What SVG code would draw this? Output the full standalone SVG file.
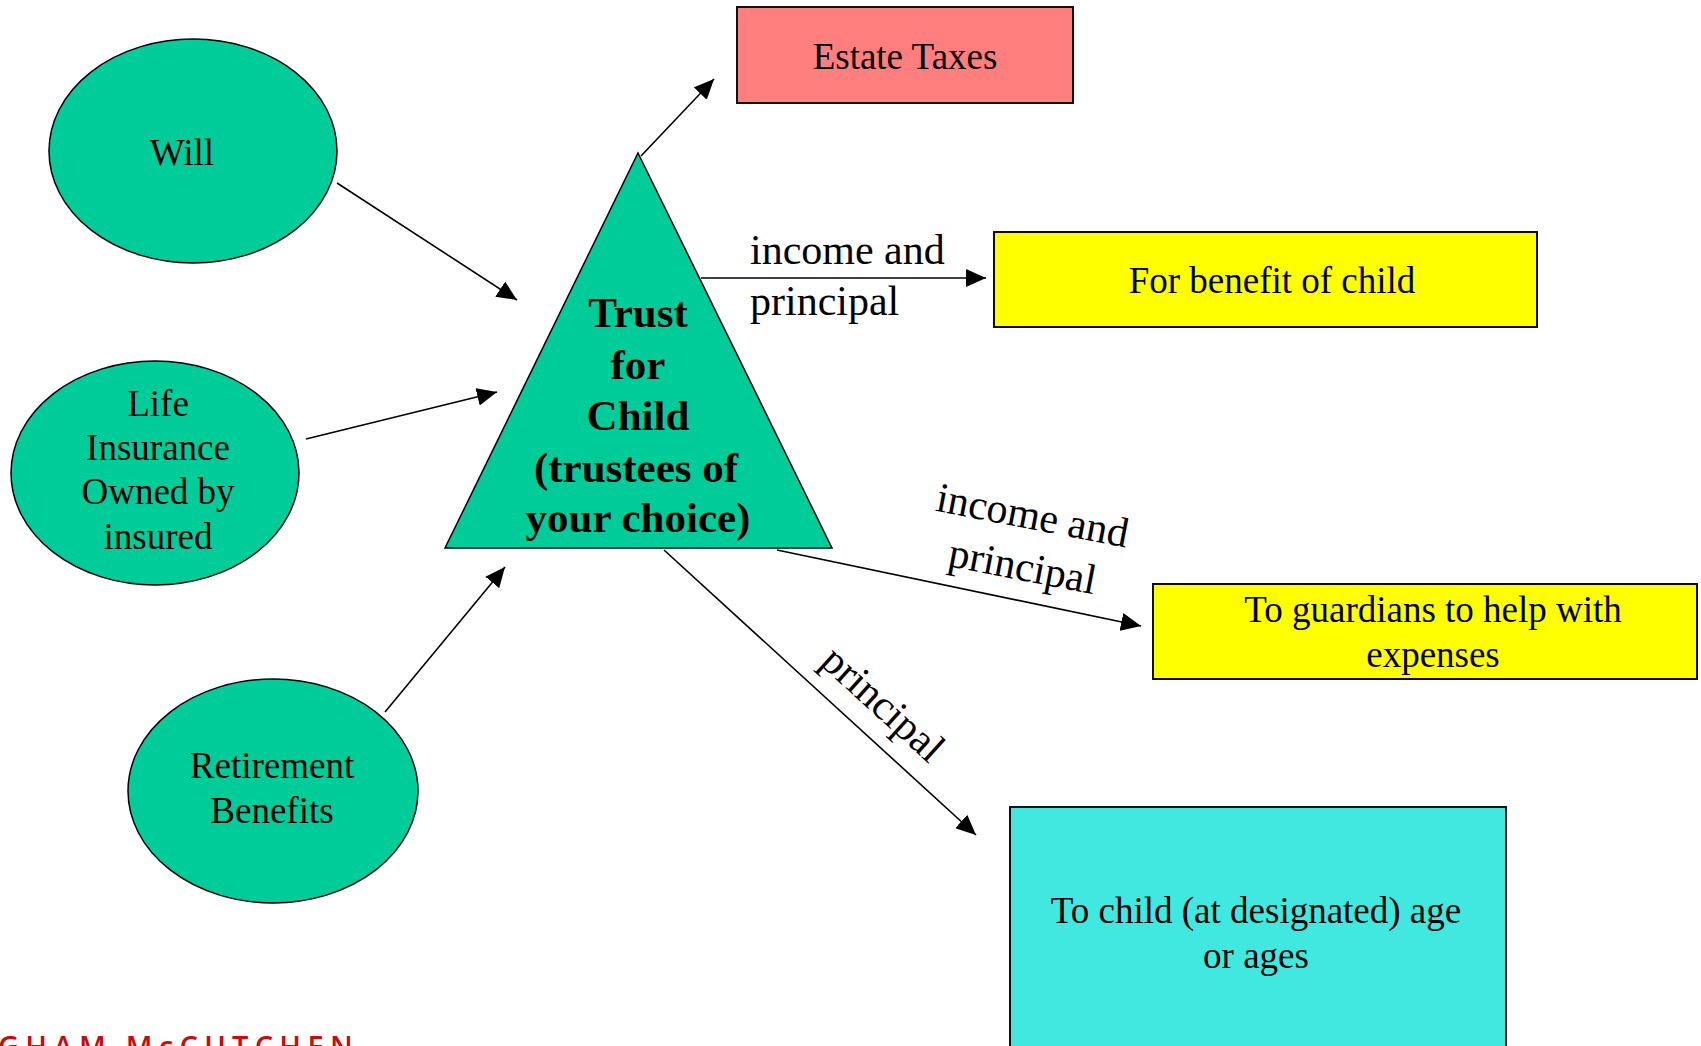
<svg xmlns="http://www.w3.org/2000/svg" width="1701" height="1046" viewBox="0 0 1701 1046">
  <style>
    .source { fill: #00CC99; stroke: #000; stroke-width: 1.5; }
    .box { stroke: #111; stroke-width: 2; }
    .lbl { font-family: "Liberation Serif", "Times New Roman", serif; font-size: 37px; fill: #000; text-anchor: middle; }
    .edge-lbl { font-family: "Liberation Serif", "Times New Roman", serif; font-size: 42px; fill: #000; }
    .trust { font-family: "Liberation Serif", "Times New Roman", serif; font-size: 43px; font-weight: bold; fill: #000; text-anchor: middle; }
    .conn { fill: none; stroke: #000; stroke-width: 1.6; marker-end: url(#arrow); }
    .logo { font-family: "Open Sans", "Liberation Sans", sans-serif; font-size: 29px; font-weight: 600; fill: #CC0A0A; letter-spacing: 6.3px; }
  </style>
  <defs>
    <marker id="arrow" viewBox="0 0 20 18" refX="20" refY="9" markerWidth="20" markerHeight="18" markerUnits="userSpaceOnUse" orient="auto">
      <path d="M0,0 L20,9 L0,18 Z" fill="#000"/>
    </marker>
  </defs>

  <rect width="1701" height="1046" fill="#fff"/>

  <!-- sources feeding the trust -->
  <g id="will">
    <ellipse class="source" cx="193" cy="151" rx="144" ry="112"/>
    <text class="lbl" x="182" y="165">Will</text>
  </g>
  <g id="life-insurance">
    <ellipse class="source" cx="155" cy="473" rx="144" ry="112"/>
    <text class="lbl" x="158" y="416">Life</text>
    <text class="lbl" x="158" y="460">Insurance</text>
    <text class="lbl" x="158" y="504">Owned by</text>
    <text class="lbl" x="158" y="549">insured</text>
  </g>
  <g id="retirement">
    <ellipse class="source" cx="273" cy="791" rx="145" ry="112"/>
    <text class="lbl" x="272" y="778">Retirement</text>
    <text class="lbl" x="272" y="823">Benefits</text>
  </g>

  <!-- the trust itself -->
  <g id="trust">
    <polygon class="source" points="638,153 832,548 445,548"/>
    <text class="trust" x="638" y="327">Trust</text>
    <text class="trust" x="638" y="379">for</text>
    <text class="trust" x="638" y="430">Child</text>
    <text class="trust" x="636" y="482">(trustees of</text>
    <text class="trust" x="638" y="532">your choice)</text>
  </g>

  <!-- destinations -->
  <g id="estate-taxes">
    <rect class="box" x="737" y="7" width="336" height="96" fill="#FF7F7F"/>
    <text class="lbl" x="905" y="69">Estate Taxes</text>
  </g>
  <g id="benefit-of-child">
    <rect class="box" x="994" y="232" width="543" height="95" fill="#FFFF00"/>
    <text class="lbl" x="1272" y="293">For benefit of child</text>
  </g>
  <g id="guardians">
    <rect class="box" x="1153" y="584" width="544" height="95" fill="#FFFF00"/>
    <text class="lbl" x="1433" y="622">To guardians to help with</text>
    <text class="lbl" x="1433" y="667">expenses</text>
  </g>
  <g id="child-at-age">
    <rect class="box" x="1010" y="807" width="496" height="260" fill="#40E8E0"/>
    <text class="lbl" x="1256" y="923">To child (at designated) age</text>
    <text class="lbl" x="1256" y="968">or ages</text>
  </g>

  <!-- connectors and their labels -->
  <g id="connectors">
    <line class="conn" x1="337" y1="183" x2="517" y2="300"/>
    <line class="conn" x1="306" y1="439" x2="497" y2="392"/>
    <line class="conn" x1="385" y1="712" x2="505" y2="567"/>
    <line class="conn" x1="641" y1="156" x2="714" y2="79"/>
    <line class="conn" x1="701" y1="278" x2="986" y2="278"/>
    <line class="conn" x1="777" y1="550" x2="1141" y2="626"/>
    <line class="conn" x1="664" y1="550" x2="976" y2="835"/>

    <text class="edge-lbl" x="750" y="264">income and</text>
    <text class="edge-lbl" x="750" y="315">principal</text>

    <g transform="translate(1030,529) rotate(11)">
      <text class="edge-lbl" text-anchor="middle" x="0" y="0">income and</text>
      <text class="edge-lbl" text-anchor="middle" x="0" y="52">principal</text>
    </g>

    <text class="edge-lbl" text-anchor="middle" transform="translate(874,714) rotate(42.3)">principal</text>
  </g>

  <!-- firm name at the lower edge -->
  <text class="logo" x="-2" y="1057">GHAM McCUTCHEN</text>
</svg>
